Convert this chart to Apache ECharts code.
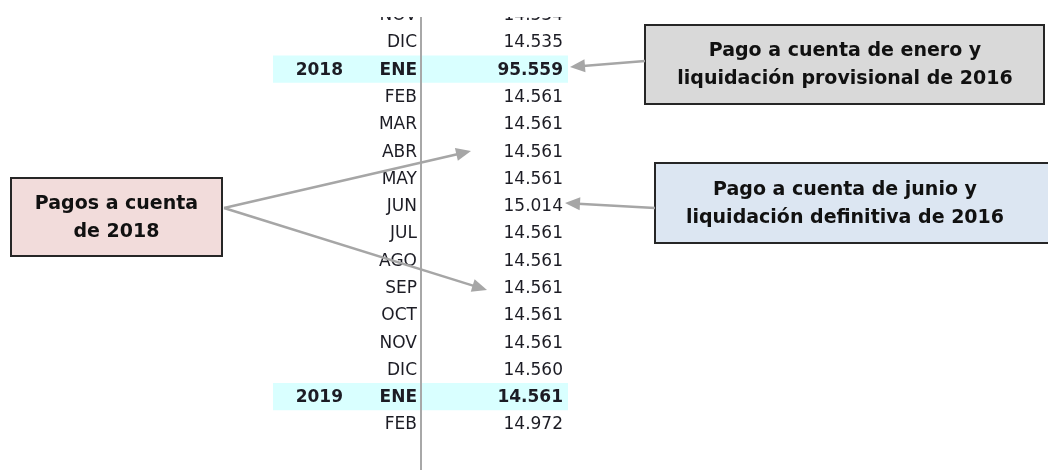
<!DOCTYPE html>
<html>
<head>
<meta charset="utf-8">
<script src="https://cdn.jsdelivr.net/npm/echarts@6/dist/echarts.min.js"></script>
<style>
    html, body { margin: 0; padding: 0; background: #fff; }
    #main { width: 1048px; height: 470px; }
</style>
</head>
<body>
<div id="main"></div>
<script>
// filas de la tabla
var years = ['', '', '2018', '', '', '', '', '', '', '', '', '', '', '', '2019', ''];
var months = ['NOV', 'DIC', 'ENE', 'FEB', 'MAR', 'ABR', 'MAY', 'JUN', 'JUL', 'AGO', 'SEP', 'OCT', 'NOV', 'DIC', 'ENE', 'FEB'];
var values = [14534, 14535, 95559, 14561, 14561, 14561, 14561, 15014, 14561, 14561, 14561, 14561, 14561, 14560, 14561, 14972];

var FONT = '"DejaVu Sans", Verdana, sans-serif';
var TXT = '#1c1c24';

function fmt(v) {
    return String(v).replace(/\B(?=(\d{3})+(?!\d))/g, '.');
}

var chart = echarts.init(document.getElementById('main'));

/**
 * flecha gris
 */
function arrow(x1, y1, x2, y2) {
    var dx = x2 - x1, dy = y2 - y1;
    var len = Math.sqrt(dx * dx + dy * dy);
    var ux = dx / len, uy = dy / len;
    var hl = 15, hw = 6.5;
    var bx = x2 - ux * hl, by = y2 - uy * hl;
    return [{
        type: 'line',
        z: 20,
        shape: { x1: x1, y1: y1, x2: bx + ux * 2, y2: by + uy * 2 },
        style: { stroke: '#a6a6a6', lineWidth: 2.5 }
    }, {
        type: 'polygon',
        z: 20,
        shape: { points: [[x2, y2], [bx - uy * hw, by + ux * hw], [bx + uy * hw, by - ux * hw]] },
        style: { fill: '#a6a6a6' }
    }];
}

function box(x, y, w, h, fill, lines, cx) {
    return [{
        type: 'rect',
        z: 10,
        shape: { x: x, y: y, width: w, height: h },
        style: { fill: fill, stroke: '#262626', lineWidth: 2 }
    }, {
        type: 'text',
        z: 11,
        style: {
            x: cx, y: y + h / 2 + 1,
            text: lines.join('\n'),
            align: 'center',
            verticalAlign: 'middle',
            fontFamily: FONT,
            fontWeight: 'bold',
            fontSize: 19,
            lineHeight: 28,
            fill: '#111'
        }
    }];
}

var graphics = [
    // tapa la fila cortada de arriba
    { type: 'rect', z: 30, shape: { x: 250, y: 0, width: 340, height: 17 }, style: { fill: '#fff' } },
    // separador vertical
    { type: 'line', z: 5, shape: { x1: 421, y1: 17, x2: 421, y2: 470 }, style: { stroke: '#a8a8a8', lineWidth: 2 } }
];
graphics = graphics
    .concat(box(645, 25, 399, 79, '#d9d9d9', ['Pago a cuenta de enero y', 'liquidación provisional de 2016'], 845))
    .concat(box(655, 163, 400, 80, '#dce6f2', ['Pago a cuenta de junio y', 'liquidación definitiva de 2016'], 845))
    .concat(box(11, 178, 211, 78, '#f2dcdb', ['Pagos a cuenta', 'de 2018'], 116.5))
    .concat(arrow(645, 61, 570, 67))
    .concat(arrow(655, 208, 565, 203))
    .concat(arrow(224, 208, 471, 151))
    .concat(arrow(224, 208, 487, 290));

var option = {
    animation: false,
    grid: { left: 0, right: 0, top: 1, height: 436.6 },
    xAxis: { type: 'value', min: 0, max: 1048, show: false },
    yAxis: {
        type: 'category',
        inverse: true,
        show: false,
        data: months.map(function (m, i) { return i; })
    },
    graphic: graphics,
    series: [{
        type: 'custom',
        silent: true,
        data: months.map(function (m, i) { return [0, i]; }),
        renderItem: function (params, api) {
            var i = api.value(1);
            var y = api.coord([0, i])[1];
            var h = api.size([0, 1])[1];
            var bold = years[i] !== '';
            var kids = [];
            if (bold) {
                var xa = api.coord([273, i])[0], xb = api.coord([568, i])[0];
                kids.push({
                    type: 'rect',
                    shape: { x: xa, y: y - h / 2, width: xb - xa, height: h },
                    style: { fill: '#d9ffff' }
                });
            }
            var cols = [[343, years[i]], [417, months[i]], [563, fmt(values[i])]];
            cols.forEach(function (c) {
                kids.push({
                    type: 'text',
                    style: {
                        x: api.coord([c[0], i])[0],
                        y: y + 1,
                        text: c[1],
                        align: 'right',
                        verticalAlign: 'middle',
                        fontFamily: FONT,
                        fontWeight: bold ? 'bold' : 'normal',
                        fontSize: 17,
                        fill: TXT
                    }
                });
            });
            return { type: 'group', children: kids };
        }
    }]
};
chart.setOption(option);
</script>
</body>
</html>
